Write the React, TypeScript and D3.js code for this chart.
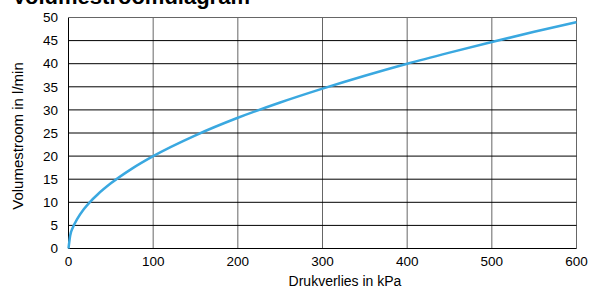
import React from "react";
import * as d3 from "d3";

const xTicks = [0, 100, 200, 300, 400, 500, 600];
const yTicks = [0, 5, 10, 15, 20, 25, 30, 35, 40, 45, 50];
const pressure = [0, 2, 5, 10, 18, 25, 35, 50, 75, 100, 150, 200, 250, 300, 350, 400, 450, 500, 550, 600];
const flow = [0, 2.8, 4.5, 6.3, 8.5, 10, 11.8, 14.1, 17.3, 20, 24.5, 28.3, 31.6, 34.6, 37.4, 40, 42.4, 44.7, 46.9, 49];

const W = 589, H = 291;
const L = 68.5, R = 576.5, T = 17.5, B = 248.5;

export default function App() {
  const x = d3.scaleLinear().domain([0, 600]).range([L, R]);
  const y = d3.scaleLinear().domain([0, 50]).range([B, T]);
  const pts = pressure.map((p, i) => [p, flow[i]] as [number, number]);
  const line = d3.line<[number, number]>().x(d => x(d[0])).y(d => y(d[1])).curve(d3.curveMonotoneX);
  const font = "Arial, 'Liberation Sans', sans-serif";
  return (
    <svg width={W} height={H} style={{ position: "absolute", left: 0, top: 0, display: "block" }} fontFamily={font}>
      <rect width={W} height={H} fill="#fff" />
      <text x={12} y={4} fontSize={22} fontWeight="bold" fill="#000">Volumestroomdiagram</text>
      {xTicks.map(t => (
        <line key={"v" + t} x1={x(t)} x2={x(t)} y1={T} y2={B} stroke={t === 0 ? "#000" : "#666"} strokeWidth={1} />
      ))}
      {yTicks.map(t => (
        <line key={"h" + t} x1={L} x2={R} y1={y(t)} y2={y(t)} stroke={t === 50 ? "#666" : "#000"} strokeWidth={1} />
      ))}
      <path d={line(pts) || ""} fill="none" stroke="#3aa8e0" strokeWidth={2.5} />
      {yTicks.map(t => (
        <text key={"yl" + t} x={58} y={y(t)} dy="0.35em" textAnchor="end" fontSize={13.5} fill="#000">{t}</text>
      ))}
      {xTicks.map(t => (
        <text key={"xl" + t} x={x(t)} y={266} textAnchor="middle" fontSize={13.5} fill="#000">{t}</text>
      ))}
      <text x={345} y={286} textAnchor="middle" fontSize={14} fill="#000">Drukverlies in kPa</text>
      <text transform={`translate(23,136) rotate(-90)`} textAnchor="middle" fontSize={15} fill="#000">Volumestroom in l/min</text>
    </svg>
  );
}
